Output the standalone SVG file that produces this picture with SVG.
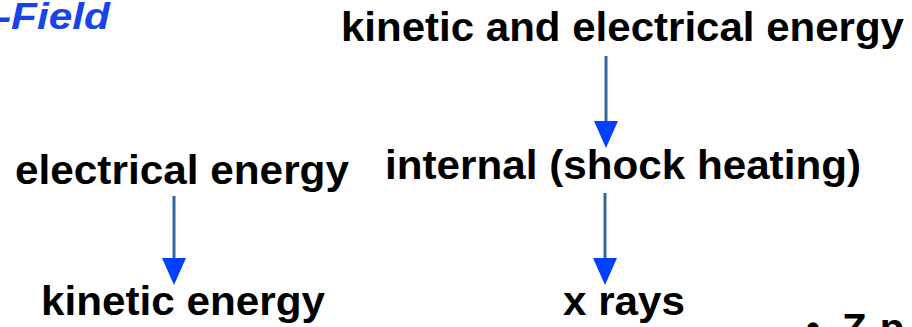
<svg xmlns="http://www.w3.org/2000/svg" width="912" height="327" viewBox="0 0 912 327">
<style>
.t{font-family:"Liberation Sans",Arial,sans-serif;font-weight:bold;font-size:40px;fill:#000}
.h{font-family:"Liberation Sans",Arial,sans-serif;font-weight:bold;font-style:italic;font-size:36px;fill:#1744E6}
.shaft{stroke:#336699;stroke-width:3;fill:none}
.head{fill:#0040FF}
</style>
<rect width="912" height="327" fill="#fff"/>
<text class="h" x="-3" y="29" textLength="113" lengthAdjust="spacingAndGlyphs">-Field</text>
<g id="n-ke-top"><text class="t" x="341" y="41" textLength="563" lengthAdjust="spacingAndGlyphs">kinetic and electrical energy</text></g>
<g id="n-internal"><text class="t" x="385" y="179" textLength="476" lengthAdjust="spacingAndGlyphs">internal (shock heating)</text></g>
<g id="n-xrays"><text class="t" x="563" y="315" textLength="122" lengthAdjust="spacingAndGlyphs">x rays</text></g>
<g id="n-elec"><text class="t" x="15" y="184" textLength="334" lengthAdjust="spacingAndGlyphs">electrical energy</text></g>
<g id="n-kin"><text class="t" x="41" y="315" textLength="284" lengthAdjust="spacingAndGlyphs">kinetic energy</text></g>
<g id="n-z"><text class="t" y="342"><tspan x="806">•</tspan><tspan x="842">Z-p</tspan></text></g>
<g id="connectors">
<line class="shaft" x1="174" y1="196" x2="174" y2="259"/>
<polygon class="head" points="162,258 186,258 174,285"/>
<line class="shaft" x1="606" y1="56" x2="606" y2="122"/>
<polygon class="head" points="594,121 618,121 606,148"/>
<line class="shaft" x1="605" y1="193" x2="605" y2="259"/>
<polygon class="head" points="593,258 617,258 605,285"/>
</g>
</svg>
